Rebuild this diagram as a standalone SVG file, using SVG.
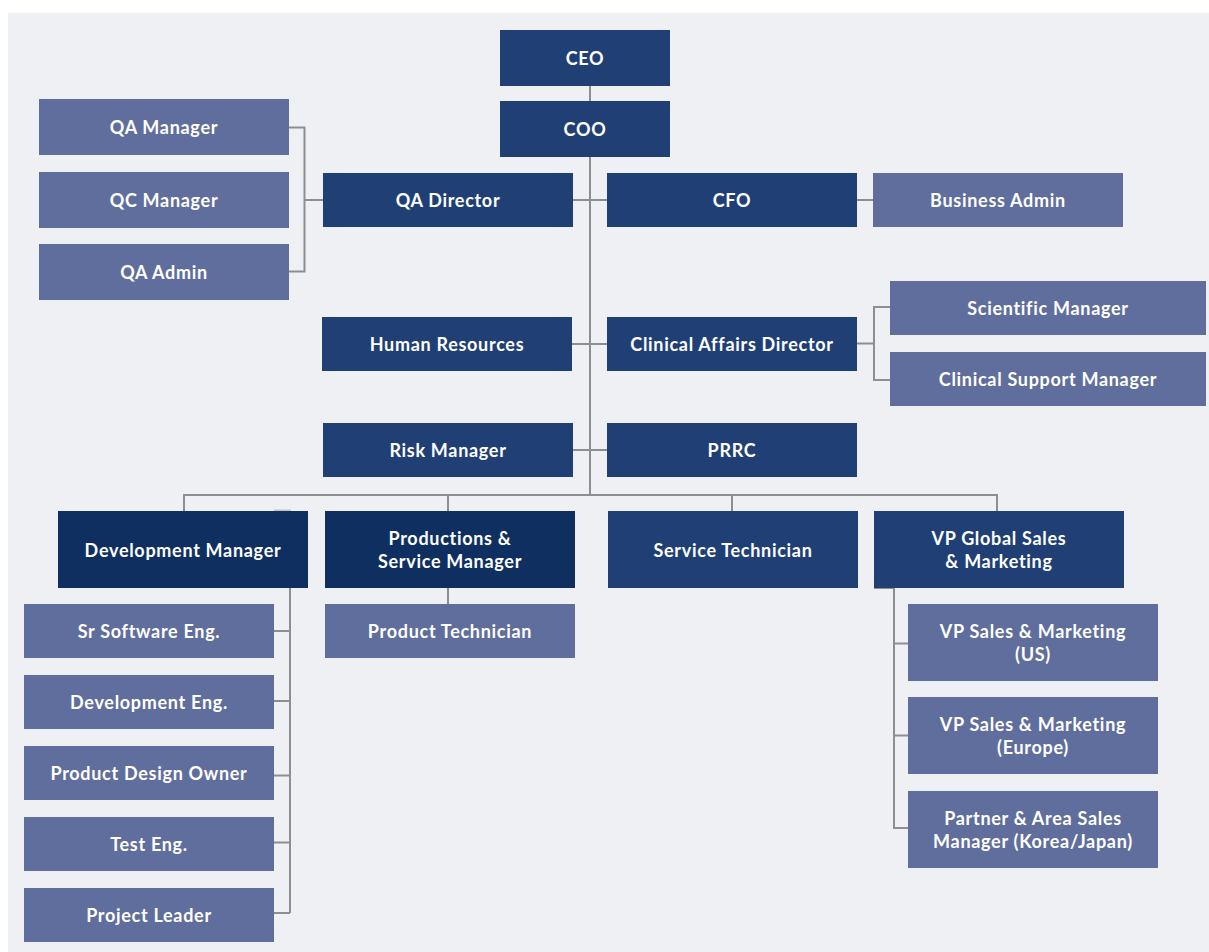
<svg xmlns="http://www.w3.org/2000/svg" width="1209" height="952" viewBox="0 0 1209 952">
<style>
.bg{fill:#EFF0F4}
.d{fill:#1F3F75}
.dd{fill:#0E2F60}
.l{fill:#5F6E9C}
.t{fill:#FFFFFF;font-family:Lato,"Noto Sans",sans-serif;font-weight:700;font-size:18px;letter-spacing:0.7px;text-anchor:middle;dominant-baseline:central}
.c{fill:none;stroke:#8E8E8E;stroke-width:2}
</style>
<rect x="0" y="0" width="1209" height="952" fill="#FFFFFF"/>
<rect class="bg" x="8" y="13" width="1201" height="939"/>
<g id="connectors">
<path class="c" d="M590 86V495"/>
<path class="c" d="M573 200H607"/>
<path class="c" d="M572 344H607"/>
<path class="c" d="M573 450H607"/>
<path class="c" d="M857 200H873"/>
<path class="c" d="M289 127.5H304.5V271.5H289M304.5 200H323"/>
<path class="c" d="M857 343.5H874M890 307H874V380H890"/>
<path class="c" d="M184 511V495H997V511M448 495V511M732 495V511"/>
<path class="c" d="M448 588V604"/>
<path class="c" d="M290 588V913"/>
<path class="c" d="M274 631H290M274 701H290M274 775.5H290M274 842.5H290M274 913H290"/>
<path class="c" d="M874 588H894V828H908M894 643.5H908M894 735.5H908"/>
<path d="M274 510.5H291" fill="none" stroke="#C4C4C8" stroke-width="2"/>
</g>
<g id="ceo"><rect class="d" x="500" y="30" width="170" height="56"/><text class="t" x="585" y="58">CEO</text></g>
<g id="coo"><rect class="d" x="500" y="101" width="170" height="56"/><text class="t" x="585" y="129">COO</text></g>
<g id="qa-manager"><rect class="l" x="39" y="99" width="250" height="56"/><text class="t" x="164" y="127">QA Manager</text></g>
<g id="qc-manager"><rect class="l" x="39" y="172" width="250" height="56"/><text class="t" x="164" y="200">QC Manager</text></g>
<g id="qa-admin"><rect class="l" x="39" y="244" width="250" height="56"/><text class="t" x="164" y="272">QA Admin</text></g>
<g id="qa-director"><rect class="d" x="323" y="173" width="250" height="54"/><text class="t" x="448" y="200">QA Director</text></g>
<g id="cfo"><rect class="d" x="607" y="173" width="250" height="54"/><text class="t" x="732" y="200">CFO</text></g>
<g id="business-admin"><rect class="l" x="873" y="173" width="250" height="54"/><text class="t" x="998" y="200">Business Admin</text></g>
<g id="human-resources"><rect class="d" x="322" y="317" width="250" height="54"/><text class="t" x="447" y="344">Human Resources</text></g>
<g id="clinical-affairs-director"><rect class="d" x="607" y="317" width="250" height="54"/><text class="t" x="732" y="344">Clinical Affairs Director</text></g>
<g id="scientific-manager"><rect class="l" x="890" y="281" width="316" height="54"/><text class="t" x="1048" y="308">Scientific Manager</text></g>
<g id="clinical-support-manager"><rect class="l" x="890" y="352" width="316" height="54"/><text class="t" x="1048" y="379">Clinical Support Manager</text></g>
<g id="risk-manager"><rect class="d" x="323" y="423" width="250" height="54"/><text class="t" x="448" y="450">Risk Manager</text></g>
<g id="prrc"><rect class="d" x="607" y="423" width="250" height="54"/><text class="t" x="732" y="450">PRRC</text></g>
<g id="development-manager"><rect class="dd" x="58" y="511" width="250" height="77"/><text class="t" x="183" y="549.5">Development Manager</text></g>
<g id="productions-service-manager"><rect class="dd" x="325" y="511" width="250" height="77"/><text class="t" x="450" y="538">Productions &amp;</text><text class="t" x="450" y="561">Service Manager</text></g>
<g id="service-technician"><rect class="d" x="608" y="511" width="250" height="77"/><text class="t" x="733" y="549.5">Service Technician</text></g>
<g id="vp-global-sales"><rect class="d" x="874" y="511" width="250" height="77"/><text class="t" x="999" y="538">VP Global Sales</text><text class="t" x="999" y="561">&amp; Marketing</text></g>
<g id="product-technician"><rect class="l" x="325" y="604" width="250" height="54"/><text class="t" x="450" y="631">Product Technician</text></g>
<g id="sr-software-eng"><rect class="l" x="24" y="604" width="250" height="54"/><text class="t" x="149" y="631">Sr Software Eng.</text></g>
<g id="development-eng"><rect class="l" x="24" y="675" width="250" height="54"/><text class="t" x="149" y="702">Development Eng.</text></g>
<g id="product-design-owner"><rect class="l" x="24" y="746" width="250" height="54"/><text class="t" x="149" y="773">Product Design Owner</text></g>
<g id="test-eng"><rect class="l" x="24" y="817" width="250" height="54"/><text class="t" x="149" y="844">Test Eng.</text></g>
<g id="project-leader"><rect class="l" x="24" y="888" width="250" height="54"/><text class="t" x="149" y="915">Project Leader</text></g>
<g id="vp-sales-us"><rect class="l" x="908" y="604" width="250" height="77"/><text class="t" x="1033" y="631">VP Sales &amp; Marketing</text><text class="t" x="1033" y="654">(US)</text></g>
<g id="vp-sales-europe"><rect class="l" x="908" y="697" width="250" height="77"/><text class="t" x="1033" y="724">VP Sales &amp; Marketing</text><text class="t" x="1033" y="747">(Europe)</text></g>
<g id="partner-area-sales"><rect class="l" x="908" y="791" width="250" height="77"/><text class="t" x="1033" y="818">Partner &amp; Area Sales</text><text class="t" x="1033" y="841">Manager (Korea/Japan)</text></g>
</svg>
